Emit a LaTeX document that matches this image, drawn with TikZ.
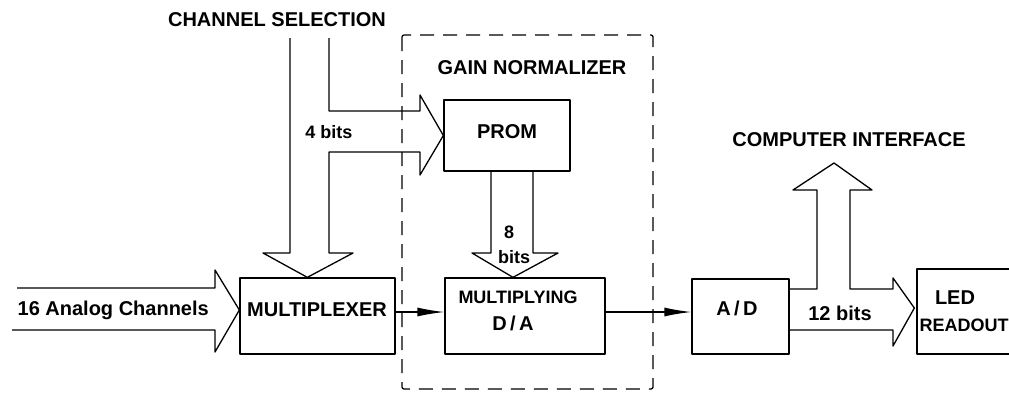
\documentclass[tikz,border=0pt]{standalone}
\usepackage{fontspec}
\setmainfont{Liberation Sans}
\usetikzlibrary{calc,arrows.meta}
\begin{document}
\begin{tikzpicture}[x=1pt,y=-1pt,
  line width=1.3pt, line join=round,
  box/.style={draw, rectangle, inner sep=0pt},
  lbl/.style={font=\bfseries\fontsize{20}{22}\selectfont, inner sep=0pt},
  slbl/.style={font=\bfseries\fontsize{18}{20}\selectfont, inner sep=0pt},
  bus/.style={draw, line width=1.3pt},
  sig/.style={draw, -{Latex[length=27pt,width=9pt]}},
  group/.style={draw, dash pattern=on 14pt off 9pt, rounded corners=2pt}]
\useasboundingbox (0,0) rectangle (1009,392);
% boxes
\node[box, minimum width=155pt, minimum height=76pt] (mux) at (317.5,316) {};
\node[box, minimum width=126pt, minimum height=71pt] (prom) at (507,135.5) {};
\node[box, minimum width=160pt, minimum height=76pt] (mda) at (525,316) {};
\node[box, minimum width=97pt, minimum height=75pt] (ad) at (740.5,316.5) {};
\node[box, minimum width=95pt, minimum height=85pt] (led) at (964.5,311.5) {};
% dashed group
\draw[group] (402,35) rectangle (653,389);
% texts
\node[lbl] (chsel) at (277,20) {CHANNEL SELECTION};
\node[lbl] (gain) at (532,68) {GAIN NORMALIZER};
\node[slbl] (fourbits) at (329,132) {4 bits};
\node[lbl, anchor=west] (analog) at (17,310) {16 Analog Channels};
\node[lbl] (muxt) at (317,310) {MULTIPLEXER};
\node[lbl] (promt) at (507,132) {PROM};
\node[slbl] (eight) at (509,232) {8};
\node[slbl] (bits) at (514,257) {bits};
\node[slbl] (mdat1) at (518,297) {MULTIPLYING};
\node[lbl] (mdat2) at (513,323) {D\,/\,A};
\node[lbl] (adt) at (737,308) {A\,/\,D};
\node[lbl] (twelve) at (840,313) {12 bits};
\node[lbl] (ci) at (849,140) {COMPUTER INTERFACE};
\node[lbl] (ledt1) at (955,298) {LED};
\node[slbl, anchor=west] (ledt2) at (919,325) {READOUT};
% channel selection bus
\coordinate (muxtip) at ($(mux.north west)+(68,0)$);
\draw[bus] (290,38) -- (290,253) -- (263,253) -- (muxtip) -- (353,253) -- (329,253)
  -- (329,152) -- (420,152) -- (420,175) -- (prom.west) -- (420,95) -- (420,111)
  -- (329,111) -- (329,38);
% 16 analog channels
\coordinate (muxin) at ($(mux.west)+(0,-6)$);
\draw[bus] (17,288) -- (215,288) -- (215,270) -- (muxin) -- (215,352) -- (215,330) -- (12,330);
% 8 bits
\coordinate (mdatip) at ($(mda.north)+(-12,0)$);
\draw[bus] ($(prom.south)+(-16,0)$) -- (491,253) -- (472,253) -- (mdatip) -- (558,253)
  -- (533,253) -- ($(prom.south)+(26,0)$);
% signal arrows
\draw[sig] ($(mux.east)+(0,-4)$) -- ($(mda.west)+(0,-4)$);
\draw[sig] ($(mda.east)+(0,-4)$) -- ($(ad.west)+(0,-4.5)$);
% 12 bits and computer interface bus
\coordinate (ledtip) at ($(led.west)+(-2,-3.5)$);
\draw[bus] (ad.east |- 0,330) -- (893,330) -- (893,346) -- (ledtip) -- (893,278) -- (893,289)
  -- (850,289) -- (850,190) -- (872,190) -- (834,163) -- (793,190) -- (817,190)
  -- (817,289) -- (ad.east |- 0,289);
\end{tikzpicture}
\end{document}
